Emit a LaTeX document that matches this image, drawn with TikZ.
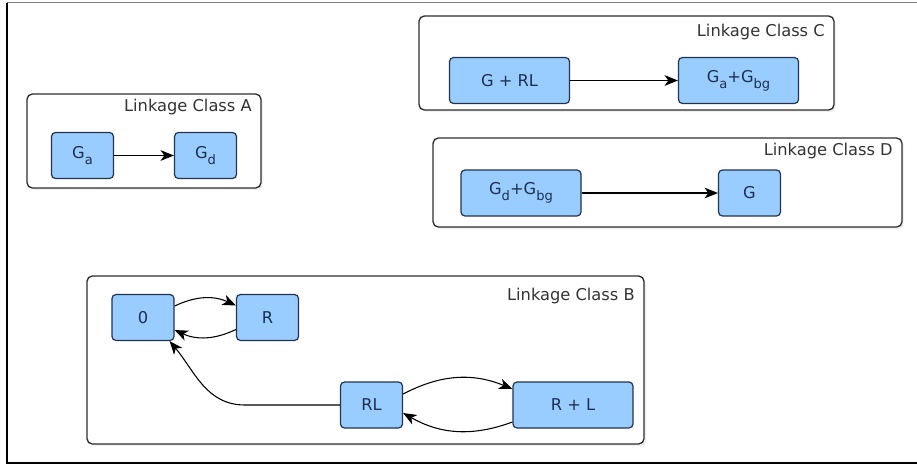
\documentclass[tikz,border=0pt]{standalone}
\usepackage{fontspec}
\setmainfont{DejaVu Sans}
\usepackage{xcolor}
\usepackage{tikz}
\usetikzlibrary{arrows.meta}
\usetikzlibrary{shadows}
\definecolor{spfill}{HTML}{99CCFF}
\definecolor{spdraw}{HTML}{22344C}
\definecolor{sptext}{HTML}{1C3050}
\definecolor{lcdraw}{HTML}{2E2E2E}
\newcommand{\lsub}[1]{\raisebox{-0.35em}{\fontsize{9.8pt}{10pt}\selectfont #1}}

\begin{document}
\begin{tikzpicture}[x=0.75pt, y=-0.75pt, font=\fontsize{12.2pt}{14pt}\selectfont,
    species/.style={draw=spdraw, line width=0.9pt, fill=spfill, text=sptext, rounded corners=3pt, minimum width=46.5pt, minimum height=34.5pt, inner sep=0pt},
    wide/.style={species, minimum width=90pt},
    flow/.style={-{Stealth[length=10pt, width=8pt, inset=2.8pt]}, line width=0.8pt},
    lcbox/.style={draw=lcdraw, line width=1pt, fill=white, rounded corners=4pt, drop shadow={opacity=0.12, shadow xshift=1.5pt, shadow yshift=-1.5pt}}]

        \useasboundingbox (0,0) rectangle (917,465);

        \draw[gray, line width=1.1pt] (7,2.5) -- (917,2.5); % top edge
        \draw[black, line width=1.1pt] (7,2.5) -- (7,463) -- (917,463); % left and bottom edge

        % linkage classes
        \foreach \nm/\xa/\ya/\xb/\yb/\ty in {A/27/94/261/188/107, B/87/276/644/444/296, C/419/16/834/110/32, D/433/138/902/227/151} {
            \draw[lcbox] (\xa, \ya) rectangle (\xb, \yb);
            \node[anchor=east, inner sep=0pt, text=black!80] (t\nm) at (\xb - 9, \ty) {Linkage Class \nm};
        }

        \node[species] (Ga) at (82.5, 155.5) {G\lsub{a}};
        \node[species] (Gd) at (205.5, 155.5) {G\lsub{d}};

        \node[species] (zero) at (143, 317.5) {0};
        \node[species] (R) at (267.5, 317.5) {R};
        \node[species] (RL) at (371.5, 405) {RL};
        \node[wide] (RpL) at (573, 405) {R + L};

        \node[wide] (GpRL) at (509.5, 80.5) {G + RL};
        \node[wide] (GaGbg) at (738.5, 80.5) {G\lsub{a}+G\lsub{bg}};

        \node[wide] (GdGbg) at (521, 193) {G\lsub{d}+G\lsub{bg}};
        \node[species] (G) at (749.5, 193) {G};

        \draw[flow] (Ga) -- (Gd);
        \draw[flow] (GpRL) -- (GaGbg);
        \draw[flow] (GdGbg) -- (G);

        \draw[flow] ([yshift=8.6pt]zero.east) to[bend left=25] ([yshift=9pt]R.west);
        \draw[flow] ([yshift=-9pt]R.west) to[bend left=25] ([yshift=-9.4pt]zero.east);
        \draw[flow] ([yshift=8.25pt]RL.east) to[bend left=25] ([yshift=12pt]RpL.west);
        \draw[flow] ([yshift=-12.75pt]RpL.west) to[bend left=25] ([yshift=-6pt]RL.east);
        \draw[flow] (RL.west) -- ++(-95, 0) to[out=180, in=-50] ([xshift=-3.75pt]zero.south east);

    \end{tikzpicture}
\end{document}
